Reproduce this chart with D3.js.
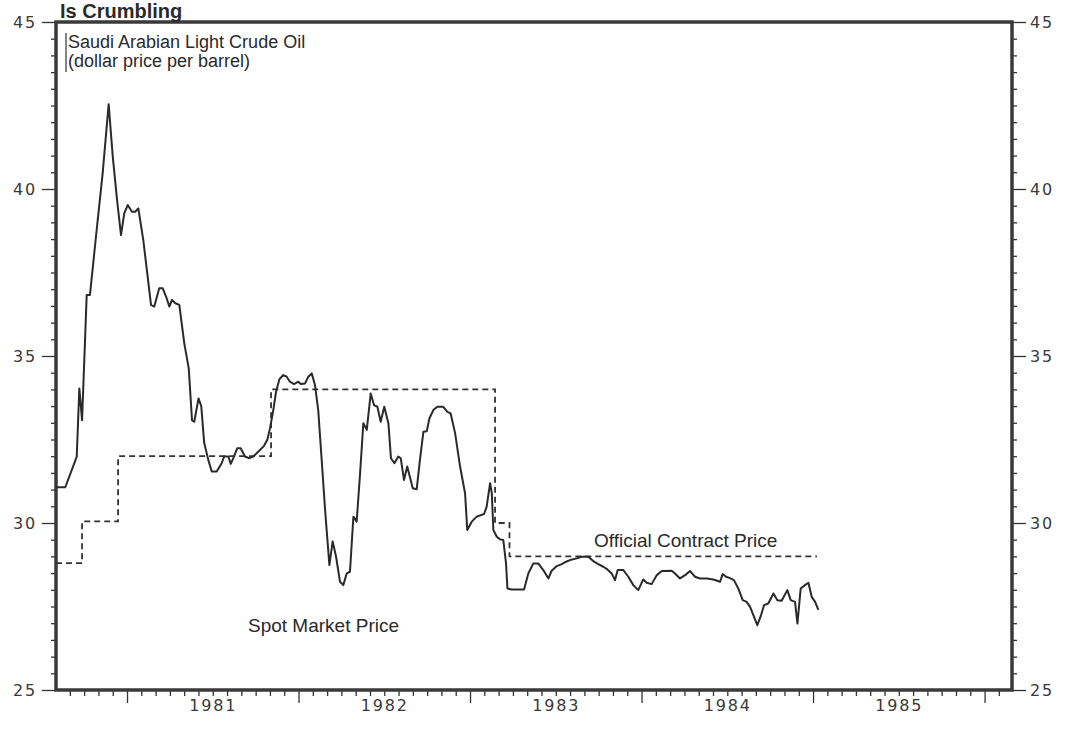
<!DOCTYPE html>
<html>
<head>
<meta charset="utf-8">
<script src="https://cdn.jsdelivr.net/npm/d3@7"></script>
<style>
  body { margin: 0; background: #fff; }
  .tick text { font-family: "DejaVu Sans", sans-serif; font-size: 16px; fill: #3a3a3a; letter-spacing: 1.8px; }
  .lbl { font-family: "Liberation Sans", Arial, sans-serif; fill: #2a2a2a; }
</style>
</head>
<body>
<div id="chart"></div>
<script>
// spot market price, Saudi Arabian Light (decimal year, $/bbl)
const spotYear = [1980.586, 1980.640, 1980.693, 1980.707, 1980.722, 1980.738, 1980.765, 1980.784, 1980.819, 1980.858,
  1980.893, 1980.917, 1980.942, 1980.965, 1980.984, 1981.004, 1981.029, 1981.048, 1981.066, 1981.095,
  1981.140, 1981.159, 1981.188, 1981.208, 1981.231, 1981.247, 1981.262, 1981.282, 1981.305, 1981.334,
  1981.360, 1981.379, 1981.392, 1981.417, 1981.433, 1981.450, 1981.474, 1981.494, 1981.523, 1981.552,
  1981.566, 1981.591, 1981.605, 1981.620, 1981.643, 1981.663, 1981.688, 1981.713, 1981.736, 1981.766,
  1981.799, 1981.818, 1981.834, 1981.853, 1981.869, 1981.888, 1981.911, 1981.931, 1981.950, 1981.974,
  1981.999, 1982.013, 1982.038, 1982.057, 1982.077, 1982.096, 1982.115, 1982.135, 1982.155, 1982.180,
  1982.199, 1982.219, 1982.242, 1982.261, 1982.281, 1982.300, 1982.320, 1982.339, 1982.359, 1982.378,
  1982.398, 1982.421, 1982.440, 1982.460, 1982.479, 1982.500, 1982.524, 1982.539, 1982.559, 1982.582,
  1982.596, 1982.615, 1982.634, 1982.666, 1982.689, 1982.708, 1982.728, 1982.748, 1982.763, 1982.786,
  1982.809, 1982.844, 1982.868, 1982.887, 1982.913, 1982.942, 1982.971, 1982.984, 1983.010, 1983.039,
  1983.082, 1983.097, 1983.117, 1983.127, 1983.136, 1983.156, 1983.175, 1983.194, 1983.210, 1983.218,
  1983.243, 1983.315, 1983.340, 1983.369, 1983.398, 1983.427, 1983.457, 1983.476, 1983.506, 1983.535,
  1983.560, 1983.583, 1983.622, 1983.651, 1983.690, 1983.723, 1983.748, 1983.777, 1983.801, 1983.826,
  1983.845, 1983.861, 1983.894, 1983.923, 1983.952, 1983.981, 1984.010, 1984.030, 1984.059, 1984.089,
  1984.118, 1984.176, 1984.195, 1984.224, 1984.254, 1984.283, 1984.312, 1984.341, 1984.380, 1984.419,
  1984.458, 1984.473, 1984.493, 1984.516, 1984.539, 1984.564, 1984.590, 1984.613, 1984.633, 1984.656,
  1984.675, 1984.695, 1984.714, 1984.739, 1984.769, 1984.792, 1984.817, 1984.850, 1984.870, 1984.895,
  1984.909, 1984.928, 1984.953, 1984.973, 1984.992, 1985.012, 1985.031];
const spotPrice = [31.07, 31.07, 31.79, 31.99, 34.03, 33.08, 36.83, 36.83, 38.57, 40.47,
  42.54, 40.97, 39.67, 38.62, 39.27, 39.52, 39.32, 39.32, 39.42, 38.47,
  36.53, 36.48, 37.03, 37.03, 36.73, 36.48, 36.68, 36.58, 36.53, 35.38,
  34.63, 33.08, 33.03, 33.73, 33.50, 32.40, 31.89, 31.54, 31.54, 31.79,
  31.99, 31.99, 31.77, 31.94, 32.24, 32.24, 31.99, 31.94, 31.99, 32.14,
  32.31, 32.49, 32.84, 33.38, 33.93, 34.30, 34.43, 34.38, 34.23, 34.16,
  34.23, 34.16, 34.18, 34.38, 34.48, 34.13, 33.38, 31.89, 30.39, 28.74,
  29.45, 28.99, 28.24, 28.14, 28.49, 28.54, 30.19, 30.04, 31.49, 32.99,
  32.79, 33.88, 33.53, 33.48, 33.03, 33.48, 32.99, 31.94, 31.79, 31.99,
  31.94, 31.29, 31.69, 31.04, 31.01, 31.89, 32.73, 32.75, 33.13, 33.38,
  33.48, 33.48, 33.33, 33.28, 32.69, 31.69, 30.89, 29.79, 30.04, 30.19,
  30.27, 30.49, 31.19, 30.89, 29.79, 29.59, 29.51, 29.49, 28.79, 28.04,
  28.01, 28.01, 28.49, 28.79, 28.79, 28.59, 28.34, 28.57, 28.71, 28.77,
  28.84, 28.89, 28.94, 28.99, 28.99, 28.84, 28.77, 28.69, 28.61, 28.49,
  28.29, 28.59, 28.59, 28.39, 28.14, 27.99, 28.31, 28.21, 28.17, 28.44,
  28.56, 28.57, 28.49, 28.34, 28.44, 28.56, 28.39, 28.34, 28.34, 28.31,
  28.24, 28.47, 28.39, 28.35, 28.29, 28.04, 27.69, 27.64, 27.49, 27.19,
  26.94, 27.21, 27.54, 27.59, 27.89, 27.69, 27.67, 27.99, 27.69, 27.64,
  26.99, 28.04, 28.14, 28.21, 27.79, 27.64, 27.40];

// official contract price: each level starts at the given year, last entry closes the line
const officialYear = [1980.586, 1980.738, 1980.948, 1981.840, 1983.146, 1983.230, 1985.023];
const officialPrice = [28.8, 30.05, 32.0, 34.0, 30.0, 29.0, 29.0];

const years = [1981, 1982, 1983, 1984, 1985, 1986];
const yearLabels = ["1981", "1982", "1983", "1984", "1985"];
const priceTicks = [25, 30, 35, 40, 45];

const W = 1066, H = 731;
const plotLeft = 56, plotRight = 1012, plotTop = 22, plotBottom = 690;

const svg = d3.select("#chart").append("svg")
    .attr("width", W)
    .attr("height", H)
    .style("background", "#fff");

const x = d3.scaleLinear().domain([1980.586, 1986.160]).range([plotLeft, plotRight]);
const y = d3.scaleLinear().domain([25, 45]).range([plotBottom, plotTop]);

// minor ticks every half dollar, monthly ticks on the time axis
const halfDollars = d3.range(25, 45.01, 0.5).filter(d => d % 5 !== 0);
const months = d3.range(Math.ceil(1980.586 * 12), Math.floor(1986.160 * 12) + 1)
    .filter(m => m % 12 !== 0).map(m => m / 12);

function strip(g) {
    g.select(".domain").remove();
    g.selectAll(".tick line").attr("stroke", "#333").attr("stroke-width", 1.3);
}

// left axis
svg.append("g").attr("transform", `translate(${plotLeft},0)`)
    .call(d3.axisLeft(y).tickValues(halfDollars).tickSize(5).tickFormat(""))
    .call(strip);
svg.append("g").attr("transform", `translate(${plotLeft},0)`)
    .call(d3.axisLeft(y).tickValues(priceTicks).tickSize(14).tickPadding(5).tickFormat(d3.format("d")))
    .call(strip);

// right axis
svg.append("g").attr("transform", `translate(${plotRight},0)`)
    .call(d3.axisRight(y).tickValues(halfDollars).tickSize(5).tickFormat(""))
    .call(strip);
svg.append("g").attr("transform", `translate(${plotRight},0)`)
    .call(d3.axisRight(y).tickValues(priceTicks).tickSize(14).tickPadding(4).tickFormat(d3.format("d")))
    .call(strip);

// bottom axis
svg.append("g").attr("transform", `translate(0,${plotBottom})`)
    .call(d3.axisBottom(x).tickValues(months).tickSize(6).tickFormat(""))
    .call(strip);
svg.append("g").attr("transform", `translate(0,${plotBottom})`)
    .call(d3.axisBottom(x).tickValues(years).tickSize(13).tickFormat(""))
    .call(strip);
svg.append("g").attr("transform", `translate(0,${plotBottom})`)
    .call(d3.axisBottom(x).tickValues(yearLabels.map(d => +d + 0.5)).tickSize(0).tickPadding(10)
        .tickFormat((d, i) => yearLabels[i]))
    .call(strip);

// frame
svg.append("rect")
    .attr("x", plotLeft).attr("y", plotTop)
    .attr("width", plotRight - plotLeft).attr("height", plotBottom - plotTop)
    .attr("fill", "none")
    .attr("stroke", "#3a3a3a")
    .attr("stroke-width", 3.5);

// official contract price (stepped, dashed)
const official = officialYear.map((d, i) => ({ t: d, v: officialPrice[i] }));
svg.append("path")
    .datum(official)
    .attr("fill", "none")
    .attr("stroke", "#333")
    .attr("stroke-width", 1.8)
    .attr("stroke-dasharray", "6,4")
    .attr("d", d3.line().curve(d3.curveStepAfter).x(d => x(d.t)).y(d => y(d.v)));

// spot market price
const spot = spotYear.map((d, i) => ({ t: d, v: spotPrice[i] }));
svg.append("path")
    .datum(spot)
    .attr("fill", "none")
    .attr("stroke", "#2a2a2a")
    .attr("stroke-width", 2)
    .attr("stroke-linejoin", "round")
    .attr("d", d3.line().x(d => x(d.t)).y(d => y(d.v)));

// texts
svg.append("text").attr("class", "lbl")
    .attr("x", 60).attr("y", 18)
    .style("font-size", "20px").style("font-weight", "bold")
    .text("Is Crumbling");

svg.append("line")
    .attr("x1", 66).attr("x2", 66).attr("y1", 33).attr("y2", 72)
    .attr("stroke", "#333").attr("stroke-width", 1.2);
svg.append("text").attr("class", "lbl")
    .attr("x", 68).attr("y", 48)
    .style("font-size", "18px")
    .text("Saudi Arabian Light Crude Oil");
svg.append("text").attr("class", "lbl")
    .attr("x", 68).attr("y", 67)
    .style("font-size", "18px")
    .text("(dollar price per barrel)");

svg.append("text").attr("class", "lbl")
    .attr("x", 594).attr("y", 547)
    .style("font-size", "19px")
    .text("Official Contract Price");
svg.append("text").attr("class", "lbl")
    .attr("x", 248).attr("y", 632)
    .style("font-size", "19px")
    .text("Spot Market Price");
</script>
</body>
</html>
